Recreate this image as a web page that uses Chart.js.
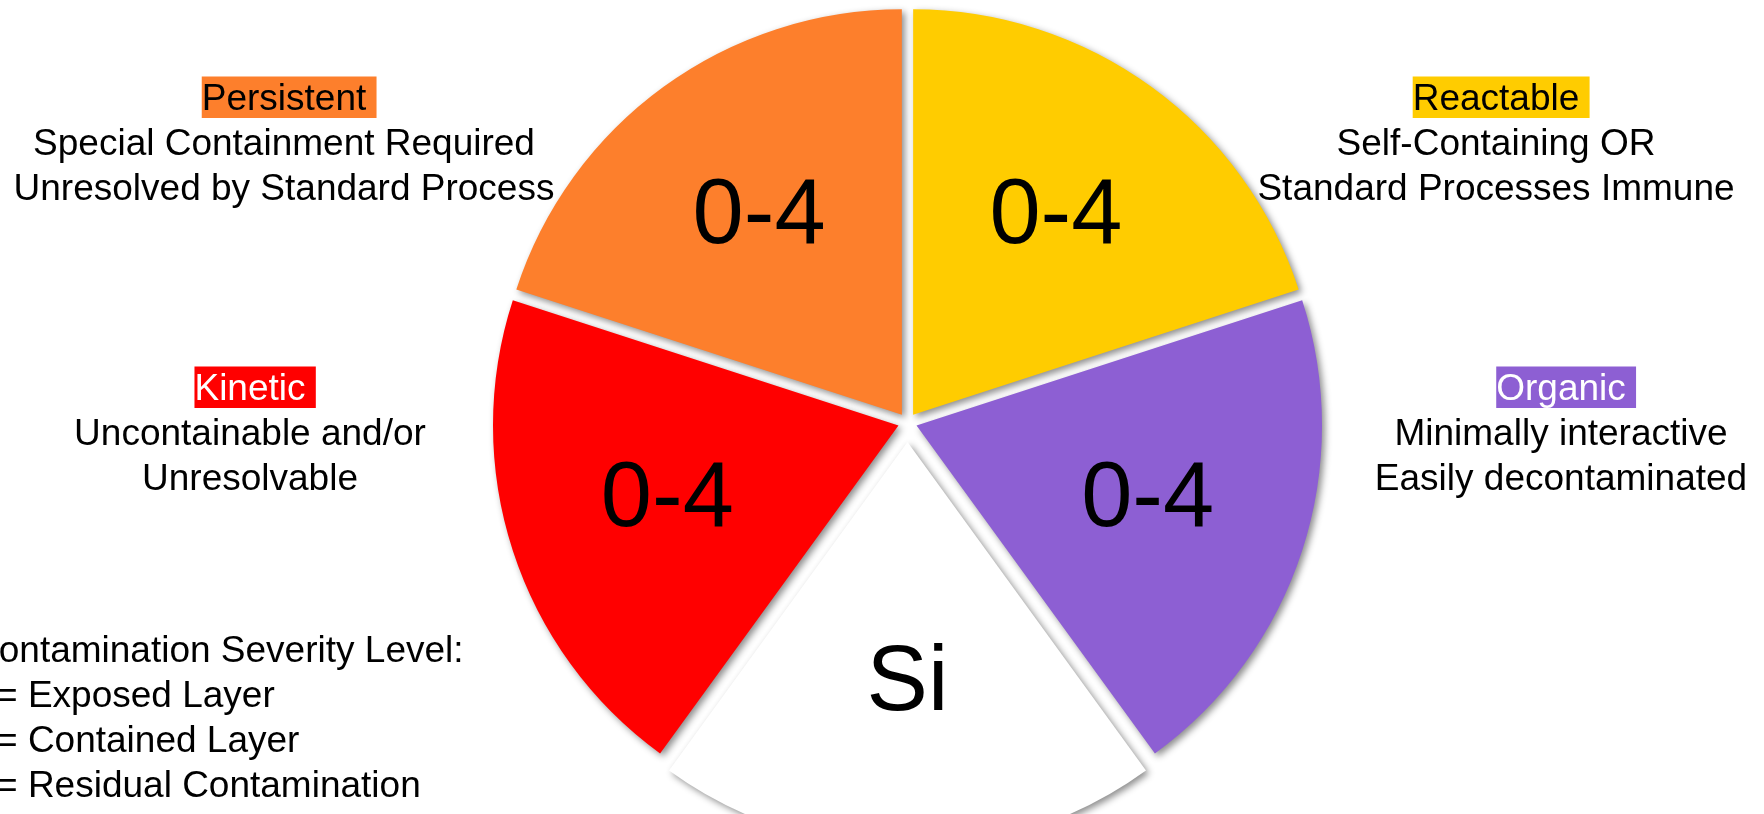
<!DOCTYPE html>
<html>
<head>
<meta charset="utf-8">
<title>Contamination classes</title>
<script src="https://cdn.jsdelivr.net/npm/chart.js@4.4.0/dist/chart.umd.min.js"></script>
<style>
  html, body { margin: 0; padding: 0; background: #fff; overflow: hidden; }
  #wrap { position: relative; width: 1764px; height: 814px; }
</style>
</head>
<body>
<div id="wrap"><canvas id="hazardChart" width="1764" height="814"></canvas></div>
<script>
// five equal wedges, clockwise from 12 o'clock
const categories = ['Reactable', 'Organic', 'Si', 'Kinetic', 'Persistent'];
const sliceValues = [1, 1, 1, 1, 1];
const sliceLabels = ['0-4', '0-4', 'Si', '0-4', '0-4'];
const sliceColors = ['#FFCC00', '#8D5FD3', '#FFFFFF', '#FF0000', '#FD7F2C'];

const descriptions = [
    ['Self-Containing OR', 'Standard Processes Immune'],
    ['Minimally interactive', 'Easily decontaminated'],
    [],
    ['Uncontainable and/or', 'Unresolvable'],
    ['Special Containment Required', 'Unresolved by Standard Process']
];

const severityTitle = 'Contamination Severity Level:';
const severityLevels = ['Exposed Layer', 'Contained Layer', 'Residual Contamination'];

const FONT = '37px "Liberation Sans", Arial, sans-serif';

// where each description block sits (centre x, title baseline)
const blockSpots = {
    Reactable: { x: 1496, y: 110, text: '#000' },
    Organic: { x: 1561, y: 400, text: '#fff' },
    Kinetic: { x: 250, y: 400, text: '#fff' },
    Persistent: { x: 284, y: 110, text: '#000' }
};

const sliceShadow = {
    id: 'sliceShadow',
    beforeDatasetsDraw(chart) {
        const ctx = chart.ctx;
        ctx.save();
        ctx.shadowColor = 'rgba(0, 0, 0, 0.45)';
        ctx.shadowBlur = 7;
        ctx.shadowOffsetX = 3;
        ctx.shadowOffsetY = 3;
    },
    afterDatasetsDraw(chart) {
        chart.ctx.restore();
    }
};

const drawBlock = (ctx, spot, title, lines, boxColor) => {
    ctx.font = FONT;
    ctx.textAlign = 'center';
    ctx.textBaseline = 'alphabetic';
    const w = ctx.measureText(title).width;
    const space = ctx.measureText(' ').width;
    ctx.fillStyle = boxColor;
    ctx.fillRect(spot.x - w / 2, spot.y - 33.5, w + space, 41.5);
    ctx.fillStyle = spot.text;
    ctx.fillText(title, spot.x, spot.y);
    ctx.fillStyle = '#000';
    lines.forEach((line, k) => {
        ctx.fillText(line, spot.x, spot.y + 45 * (k + 1));
    });
};

const textLayer = {
    id: 'textLayer',
    afterDraw(chart) {
        const ctx = chart.ctx;
        const meta = chart.getDatasetMeta(0);
        ctx.save();

        // big labels inside the wedges
        ctx.font = '92px "Liberation Sans", Arial, sans-serif';
        ctx.fillStyle = '#000';
        ctx.textAlign = 'center';
        ctx.textBaseline = 'alphabetic';
        meta.data.forEach((arc, i) => {
            const p = arc.getProps(['x', 'y', 'startAngle', 'endAngle', 'outerRadius'], true);
            const mid = (p.startAngle + p.endAngle) / 2;
            const r = p.outerRadius * 0.6 + (arc.options.offset || 0) / 4;
            ctx.fillText(sliceLabels[i], p.x + Math.cos(mid) * r, p.y + Math.sin(mid) * r + 25);
        });

        // category descriptions
        categories.forEach((name, i) => {
            const spot = blockSpots[name];
            if (!spot) return;
            drawBlock(ctx, spot, name, descriptions[i], sliceColors[i]);
        });

        // severity key, bottom left
        ctx.font = FONT;
        ctx.textAlign = 'left';
        ctx.fillStyle = '#000';
        ctx.fillText(severityTitle, -28, 662);
        severityLevels.forEach((lvl, k) => {
            ctx.fillText('= ' + lvl, -4, 707 + 45 * k);
        });

        ctx.restore();
    }
};

const ctx = document.getElementById('hazardChart').getContext('2d');
const hazardChart = new Chart(ctx, {
    type: 'pie',
    data: {
        labels: categories,
        datasets: [{
            data: sliceValues,
            backgroundColor: sliceColors,
            borderWidth: 0,
            offset: [38, 38, 78, 38, 38],
            hoverOffset: 0,
            clip: false
        }]
    },
    options: {
        responsive: false,
        animation: false,
        events: [],
        radius: 405,
        layout: { padding: { left: 51, top: 31 } },
        plugins: {
            legend: { display: false },
            tooltip: { enabled: false }
        }
    },
    plugins: [sliceShadow, textLayer]
});
</script>
</body>
</html>
